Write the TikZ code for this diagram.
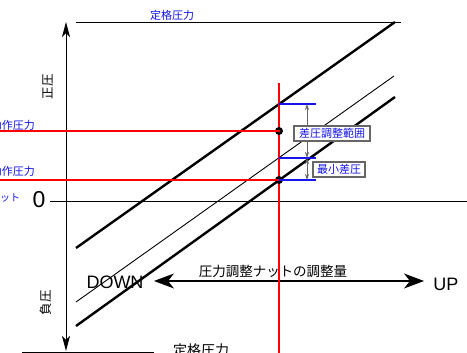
\documentclass[tikz,border=0pt]{standalone}
\usepackage{fontspec}
\setmainfont{Liberation Sans}
\newfontfamily\jp{Noto Sans CJK JP}
\usetikzlibrary{arrows.meta}
\definecolor{lblue}{RGB}{20,20,235}
\definecolor{lred}{RGB}{255,0,0}
\tikzset{
  thinline/.style={line width=0.9pt, black},
  thickline/.style={line width=2.4pt, black},
  redline/.style={line width=2.4pt, lred},
  vredline/.style={line width=1.05pt, color=red},
  blueline/.style={line width=1.3pt, lblue},
  dimline/.style={line width=0.8pt, black!60, {Stealth[length=6pt,width=4pt]}-{Stealth[length=6pt,width=4pt]}},
  axisarrow/.style={line width=1pt, black, {Stealth[length=15pt,width=8pt,inset=4pt]}-{Stealth[length=15pt,width=8pt,inset=4pt]}},
  bigarrow/.style={line width=1.2pt, black, {Stealth[length=20pt,width=15pt,inset=6pt]}-{Stealth[length=20pt,width=15pt,inset=6pt]}},
  lbl/.style={inner sep=0pt, font=\jp},
  bluelbl/.style={inner sep=0pt, font=\jp\fontsize{11}{11}\selectfont, text=lblue},
  boxlbl/.style={draw=black!60, line width=1.1pt, fill=white, inner sep=1.5pt, font=\jp\fontsize{11}{11}\selectfont, text=lblue, minimum height=15pt},
  dot/.style={circle, fill=black, inner sep=0pt, minimum size=8pt}
}
\begin{document}
\begin{tikzpicture}[x=1pt,y=-1pt]
\useasboundingbox (0,0) rectangle (467,353);
\fill[white] (0,0) rectangle (467,353);
% coordinates
\coordinate (ax0) at (66,22);
\coordinate (ax1) at (66,351);
\coordinate (top0) at (76,22);
\coordinate (top1) at (401,22);
\coordinate (bot0) at (22,352);
\coordinate (bot1) at (154,352);
\coordinate (z0) at (50,201);
\coordinate (z1) at (467,201);
\coordinate (u0) at (76,248);
\coordinate (u1) at (395,22);
\coordinate (m0) at (76,302);
\coordinate (m1) at (394,76);
\coordinate (l0) at (76,326);
\coordinate (l1) at (395,97);
\coordinate (r0) at (0,131);
\coordinate (r1) at (0,180);
\coordinate (v0) at (279,83);
\coordinate (v1) at (279,353);
\coordinate (b1s) at (279,104);
\coordinate (b1e) at (316,104);
\coordinate (b2s) at (279,158);
\coordinate (b2e) at (316,158);
\coordinate (b3s) at (279,180);
\coordinate (b3e) at (316,180);
\coordinate (d1) at (307,104);
\coordinate (d2) at (307,158);
\coordinate (d3) at (307,180);
\coordinate (h0) at (154,281);
\coordinate (h1) at (424,281);

% lines
\draw[thinline] (top0) -- (top1);
\draw[thinline] (bot0) -- (bot1);
\draw[thinline] (z0) -- (z1);
\draw[axisarrow] (ax1) -- (ax0);
\draw[thickline] (u0) -- (u1);
\draw[thinline] (m0) -- (m1);
\draw[thickline] (l0) -- (l1);
\draw[bigarrow] (h0) -- (h1);
\draw[vredline] (v0) -- (v1);
\node[dot] (p1) at (279,131) {};
\node[dot] (p2) at (279,180) {};
\draw[redline] (r0) -- (p1.center);
\draw[redline] (r1) -- (p2.center);
\fill[lred] (p1) circle (1.4pt);
\fill[lred] (p2) circle (1.4pt);
\draw[blueline] (b1s) -- (b1e);
\draw[blueline] (b2s) -- (b2e);
\draw[blueline] (b3s) -- (b3e);
\draw[dimline] (d1) -- (d2);
\draw[dimline] (d2) -- (d3);

% labels
\node[bluelbl] (t1) at (172,15) {定格圧力};
\node[bluelbl, anchor=east] (t2) at (35,125) {動作圧力};
\node[bluelbl, anchor=east] (t3) at (35,171) {動作圧力};
\node[lbl, anchor=west, text=lblue, font=\jp\fontsize{10}{10}\selectfont] (t4) at (0,198) {ット};
\node[inner sep=0pt, font=\fontsize{23}{23}\selectfont] (zero) at (39,200) {0};
\node[lbl, rotate=90, font=\jp\fontsize{12.5}{12.5}\selectfont] (pos) at (48,87) {正圧};
\node[lbl, rotate=90, font=\jp\fontsize{12.5}{12.5}\selectfont] (neg) at (46,303) {負圧};
\node[lbl, font=\jp\fontsize{14}{14}\selectfont] (t5) at (201,350) {定格圧力};
\node[boxlbl, minimum width=76pt] (k1) at (332,133.5) {差圧調整範囲};
\node[boxlbl, minimum width=52pt] (k2) at (339,169.5) {最小差圧};
\node[lbl, font=\jp\fontsize{13.5}{13.5}\selectfont] (t6) at (273,271.5) {圧力調整ナットの調整量};
\node[inner sep=0pt, font=\fontsize{18}{18}\selectfont] (down) at (115,282) {DOWN};
\node[inner sep=0pt, font=\fontsize{18}{18}\selectfont] (up) at (446,284) {UP};
\end{tikzpicture}
\end{document}
